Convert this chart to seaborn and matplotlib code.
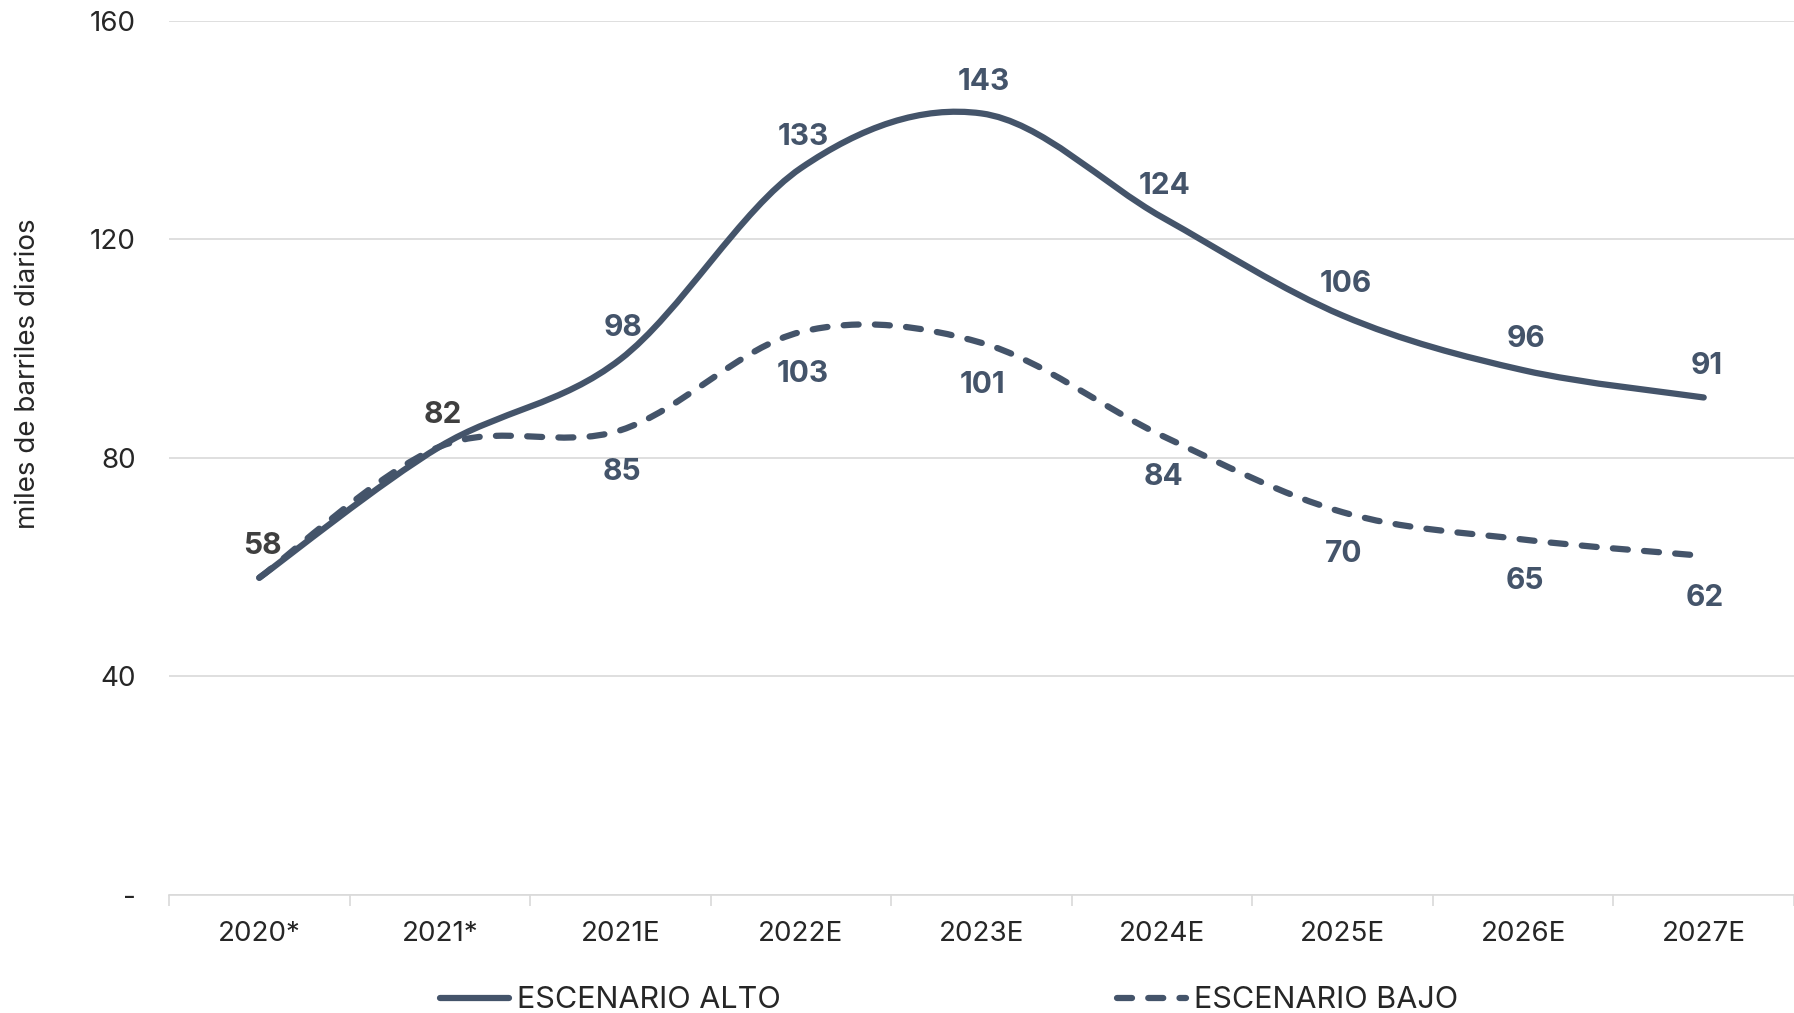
import numpy as np
import pandas as pd
import matplotlib
matplotlib.use("Agg")
import matplotlib.pyplot as plt
import seaborn as sns
from matplotlib.path import Path
from matplotlib.patches import PathPatch
from matplotlib.lines import Line2D

# ---- data ----
years = ["2020*", "2021*", "2021E", "2022E", "2023E", "2024E", "2025E", "2026E", "2027E"]
alto = [58, 82, 98, 133, 143, 124, 106, 96, 91]
bajo = [58, 82, 85, 103, 101, 84, 70, 65, 62]
y_ticks = [0, 40, 80, 120, 160]
y_tick_labels = ["-", "40", "80", "120", "160"]
series_names = ["ESCENARIO ALTO", "ESCENARIO BAJO"]

LINE = "#44546A"
DARK = "#3F3F3F"
GRID = "#D9D9D9"
TEXT = "#262626"
FONT = ["Inter", "DejaVu Sans"]


def smooth_path(xs, ys):
    """Excel-like smoothed line: cubic Bezier through each data point."""
    pts = np.column_stack([xs, ys]).astype(float)
    n = len(pts)
    verts, codes = [pts[0]], [Path.MOVETO]
    for i in range(n - 1):
        p0 = pts[max(i - 1, 0)]
        p1, p2 = pts[i], pts[i + 1]
        p3 = pts[min(i + 2, n - 1)]
        verts += [p1 + (p2 - p0) / 6, p2 - (p3 - p1) / 6, p2]
        codes += [Path.CURVE4] * 3
    return Path(verts, codes)


sns.set_theme(style="white")
plt.rcParams["font.family"] = FONT

df = pd.DataFrame({
    "pos": list(range(len(years))) * 2,
    "valor": alto + bajo,
    "escenario": [series_names[0]] * len(years) + [series_names[1]] * len(years),
})

fig = plt.figure(figsize=(17.94, 10.13), dpi=100)
ax = fig.add_axes([0.0942, 0.1169, 0.9058, 0.8628])

# seaborn sets up the scales; curves drawn as smoothed paths on top
sns.lineplot(data=df, x="pos", y="valor", hue="escenario", linewidth=0,
             legend=False, ax=ax)

styles = {
    series_names[0]: dict(linestyle="-"),
    series_names[1]: dict(linestyle=(0, (2.4, 2.6))),
}
for name, vals in zip(series_names, [alto, bajo]):
    patch = PathPatch(smooth_path(range(len(vals)), vals), fill=False,
                      edgecolor=LINE, linewidth=4.5, capstyle="round",
                      joinstyle="round", zorder=3, **styles[name])
    ax.add_patch(patch)

# data labels
for i, v in enumerate(alto):
    ax.annotate(str(v), (i, v), xytext=(2, 22.5), textcoords="offset points",
                ha="center", va="center", fontsize=21.5, fontweight="bold",
                color=DARK if i < 2 else LINE)
for i, v in enumerate(bajo):
    if i < 2:
        continue
    ax.annotate(str(v), (i, v), xytext=(1, -30), textcoords="offset points",
                ha="center", va="center", fontsize=21.5, fontweight="bold",
                color=LINE)

ax.set_xlim(-0.5, len(years) - 0.5)
ax.set_ylim(0, 160)
ax.set_yticks(y_ticks)
ax.set_yticklabels(y_tick_labels)
ax.set_xticks(range(len(years)))
ax.set_xticklabels(years)
ax.set_xticks(np.arange(-0.5, len(years)), minor=True)
ax.tick_params(axis="x", which="major", length=0, pad=19, labelsize=20, labelcolor=TEXT)
ax.tick_params(axis="x", which="minor", length=8, width=1.2, color=GRID, direction="out",
               bottom=True)
ax.tick_params(axis="y", length=0, pad=24, labelsize=20, labelcolor=TEXT)

ax.grid(axis="y", color=GRID, linewidth=1.2)
ax.grid(axis="x", visible=False)
for side in ["left", "right", "top"]:
    ax.spines[side].set_visible(False)
ax.spines["bottom"].set_color(GRID)
ax.spines["bottom"].set_linewidth(1.2)

ax.set_xlabel("")
ax.set_ylabel("")
fig.text(0.0156, 0.631, "miles de barriles diarios", rotation=90, ha="center",
         va="center", fontsize=20, color=TEXT)

handles = [
    Line2D([], [], color=LINE, linewidth=4.5, solid_capstyle="round"),
    Line2D([], [], color=LINE, linewidth=4.5, linestyle=(0, (2.4, 2.6)),
           dash_capstyle="round"),
]
fig.legend(handles, series_names, loc="center", bbox_to_anchor=(0.529, 0.0125),
           ncol=2, frameon=False, fontsize=22, handlelength=2.25,
           handletextpad=0.26, columnspacing=11, borderpad=0, labelcolor=TEXT)

fig.savefig("out.png", dpi=100)
